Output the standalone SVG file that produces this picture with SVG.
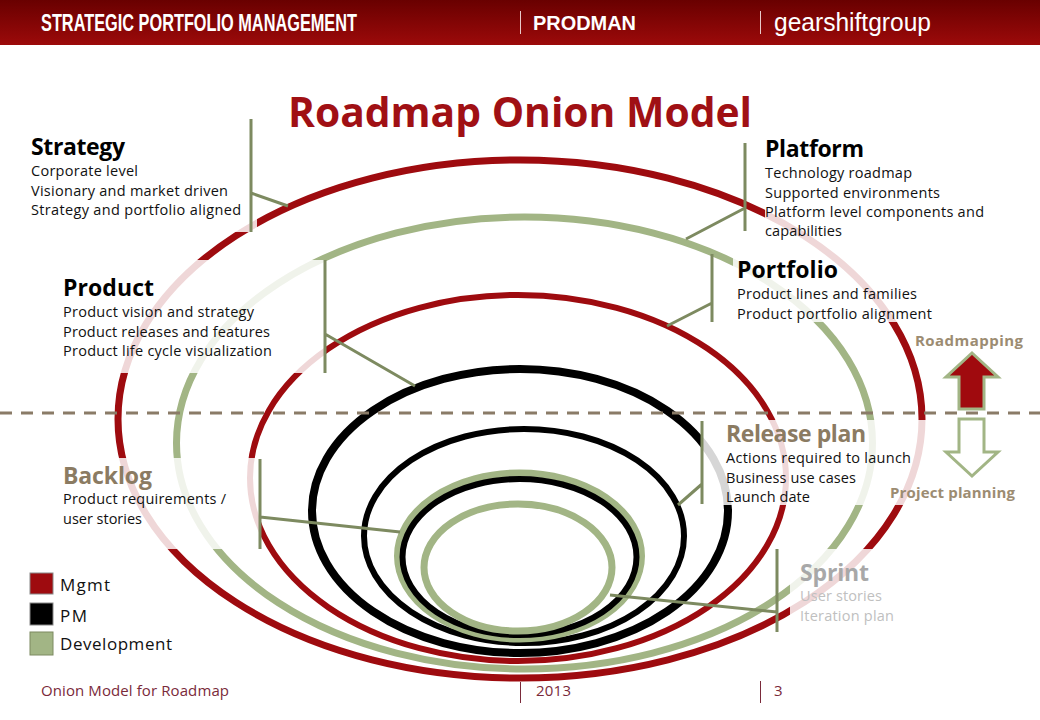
<svg xmlns="http://www.w3.org/2000/svg" width="1040" height="720" viewBox="0 0 1040 720">
<style>
.r{fill:none;stroke:#9e0b0f}
.g{fill:none;stroke:#a2b585}
.k{fill:none;stroke:#000}
.fade{fill:#fff;fill-opacity:.84}
.c{stroke:#7d8a60;stroke-width:3;fill:none}
text{font-family:"Open Sans","Noto Sans","Liberation Sans",sans-serif}
.h{font-size:23px;font-weight:700;fill:#000}
.b{font-size:14.5px;fill:#111}
.t{fill:#8b7b62}
.s1{fill:#a8a8a8}
.s2{fill:#c0c0c0}
.lab{font-size:15px;font-weight:700;fill:#9c8c72}
.ft{font-size:15px;fill:#7a2a3a}
.hd{fill:#fff;font-family:"Liberation Sans Narrow","Liberation Sans",sans-serif}
</style>
<defs>
<linearGradient id="hg" x1="0" y1="0" x2="0" y2="1"><stop offset="0" stop-color="#690000"/><stop offset="1" stop-color="#9c0a0a"/></linearGradient>
</defs>
<g id="header">
<rect width="1040" height="45" fill="url(#hg)"/>
<text class="hd" x="41" y="31" font-size="23" font-weight="700" textLength="316" lengthAdjust="spacingAndGlyphs">STRATEGIC PORTFOLIO MANAGEMENT</text>
<line x1="520.5" y1="11" x2="520.5" y2="34" stroke="#e8caca"/>
<text class="hd" x="533" y="30" font-size="20" font-weight="700" textLength="103" lengthAdjust="spacingAndGlyphs">PRODMAN</text>
<line x1="760.5" y1="11" x2="760.5" y2="34" stroke="#e8caca"/>
<text class="hd" x="774" y="31" font-size="25" textLength="157" lengthAdjust="spacingAndGlyphs">gearshiftgroup</text>
</g>
<text id="title" x="288" y="127" font-size="42" font-weight="700" fill="#a01014" textLength="464" lengthAdjust="spacingAndGlyphs">Roadmap Onion Model</text>
<g id="rings">
<ellipse class="r" stroke-width="7" cx="520" cy="419" rx="402" ry="259"/>
<ellipse class="g" stroke-width="7" cx="524.500" cy="443" rx="348" ry="226"/>
<ellipse class="r" stroke-width="6" cx="518" cy="478" rx="268" ry="183"/>
<ellipse class="k" stroke-width="8" cx="520" cy="511" rx="208" ry="142"/>
<ellipse class="k" stroke-width="6" cx="524" cy="536" rx="160" ry="107"/>
<ellipse class="g" stroke-width="7" cx="519.500" cy="556" rx="122" ry="83"/>
<ellipse class="k" stroke-width="6" cx="519.500" cy="557" rx="117" ry="78"/>
<ellipse class="g" stroke-width="7" cx="518" cy="567.500" rx="94" ry="63.500"/>
</g>
<g id="fades">
<rect class="fade" x="31" y="133" width="226" height="99"/>
<rect class="fade" x="765" y="133" width="225" height="120"/>
<rect class="fade" x="733" y="253" width="205" height="69"/>
<rect class="fade" x="63" y="260" width="262" height="113"/>
<rect class="fade" x="702" y="420" width="230" height="85"/>
<rect class="fade" x="63" y="458" width="197" height="91"/>
<rect class="fade" x="790" y="549" width="110" height="83"/>
</g>
<line id="divider" x1="0" y1="413" x2="1040" y2="413" stroke="#8a7b67" stroke-width="3" stroke-dasharray="12 9"/>
<g id="connectors">
<path class="c" d="M251 119V232M251 193L288 206"/>
<path class="c" d="M745 143V231M745 208L686 239"/>
<path class="c" d="M712 254V322M712 303L667 326"/>
<path class="c" d="M325 260V373M325 334L415 386"/>
<path class="c" d="M702 421V504M702 484L678 505"/>
<path class="c" d="M260 459V549M260 517L400 532"/>
<path class="c" d="M777 549V632M777 612L610 595"/>
</g>
<g id="strategy">
<text class="h" x="31" y="155" textLength="94">Strategy</text>
<text class="b" x="31" y="176" textLength="107">Corporate level</text>
<text class="b" x="31" y="196" textLength="197">Visionary and market driven</text>
<text class="b" x="31" y="215" textLength="210">Strategy and portfolio aligned</text>
</g>
<g id="platform">
<text class="h" x="765" y="157" textLength="99">Platform</text>
<text class="b" x="765" y="178" textLength="147">Technology roadmap</text>
<text class="b" x="765" y="198" textLength="175">Supported environments</text>
<text class="b" x="765" y="217" textLength="219">Platform level components and</text>
<text class="b" x="765" y="236" textLength="77">capabilities</text>
</g>
<g id="portfolio">
<text class="h" x="737" y="278" textLength="101">Portfolio</text>
<text class="b" x="737" y="299" textLength="180">Product lines and families</text>
<text class="b" x="737" y="319" textLength="195">Product portfolio alignment</text>
</g>
<g id="product">
<text class="h" x="63" y="296" textLength="91">Product</text>
<text class="b" x="63" y="317" textLength="191">Product vision and strategy</text>
<text class="b" x="63" y="337" textLength="207">Product releases and features</text>
<text class="b" x="63" y="356" textLength="209">Product life cycle visualization</text>
</g>
<g id="backlog">
<text class="h t" x="63" y="484" textLength="89">Backlog</text>
<text class="b" x="63" y="504" textLength="163">Product requirements /</text>
<text class="b" x="63" y="524" textLength="79">user stories</text>
</g>
<g id="release-plan">
<text class="h t" x="726" y="442" textLength="140">Release plan</text>
<text class="b" x="726" y="463" textLength="185">Actions required to launch</text>
<text class="b" x="726" y="483" textLength="130">Business use cases</text>
<text class="b" x="726" y="502" textLength="84">Launch date</text>
</g>
<g id="sprint">
<text class="h s1" x="800" y="581" textLength="69">Sprint</text>
<text class="b s2" x="800" y="601" textLength="82">User stories</text>
<text class="b s2" x="800" y="621" textLength="94">Iteration plan</text>
</g>
<g id="roadmapping">
<text class="lab" x="915" y="346" textLength="108">Roadmapping</text>
<path d="M972 353L998 377H984V409H959V377H946Z" fill="#a00a0e" stroke="#a2b585" stroke-width="3"/>
</g>
<g id="project-planning">
<path d="M959 419H984V452H998L972 476L946 452H959Z" fill="#fff" stroke="#a2b585" stroke-width="3"/>
<text class="lab" x="890" y="498" textLength="125">Project planning</text>
</g>
<g id="legend">
<rect x="30" y="573" width="23" height="21" fill="#9e0b0f" stroke="#888" stroke-width="1"/>
<text x="60" y="591" font-size="17" fill="#111" textLength="50">Mgmt</text>
<rect x="30" y="603" width="23" height="22" fill="#000" stroke="#888" stroke-width="1"/>
<text x="60" y="622" font-size="17" fill="#111" textLength="27">PM</text>
<rect x="30" y="632" width="23" height="23" fill="#a2b585" stroke="#7d8a60" stroke-width="1"/>
<text x="60" y="650" font-size="17" fill="#111" textLength="112">Development</text>
</g>
<g id="footer">
<text class="ft" x="41" y="696" textLength="188">Onion Model for Roadmap</text>
<line x1="520.500" y1="682" x2="520.500" y2="703" stroke="#7a2a3a"/>
<text class="ft" x="536" y="696" textLength="35">2013</text>
<line x1="760.500" y1="681" x2="760.500" y2="703" stroke="#7a2a3a"/>
<text class="ft" x="774" y="696">3</text>
</g>
</svg>
